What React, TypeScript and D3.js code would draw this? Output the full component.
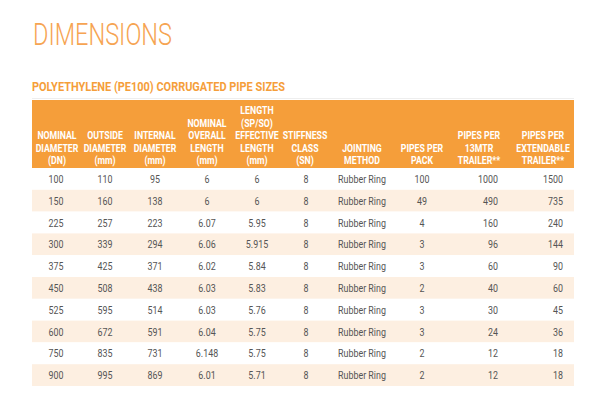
import React from "react";
import * as d3 from "d3";

const nominalDN = ["100", "150", "225", "300", "375", "450", "525", "600", "750", "900"];
const outsideDia = ["110", "160", "257", "339", "425", "508", "595", "672", "835", "995"];
const internalDia = ["95", "138", "223", "294", "371", "438", "514", "591", "731", "869"];
const overallLength = ["6", "6", "6.07", "6.06", "6.02", "6.03", "6.03", "6.04", "6.148", "6.01"];
const effectiveLength = ["6", "6", "5.95", "5.915", "5.84", "5.83", "5.76", "5.75", "5.75", "5.71"];
const stiffness = ["8", "8", "8", "8", "8", "8", "8", "8", "8", "8"];
const jointing = ["Rubber Ring", "Rubber Ring", "Rubber Ring", "Rubber Ring", "Rubber Ring", "Rubber Ring", "Rubber Ring", "Rubber Ring", "Rubber Ring", "Rubber Ring"];
const pipesPerPack = ["100", "49", "4", "3", "3", "2", "3", "3", "2", "2"];
const pipes13m = ["1000", "490", "160", "96", "60", "40", "30", "24", "12", "12"];
const pipesExt = ["1500", "735", "240", "144", "90", "60", "45", "36", "18", "18"];

const headers: string[][] = [
  ["NOMINAL", "DIAMETER", "(DN)"],
  ["OUTSIDE", "DIAMETER", "(mm)"],
  ["INTERNAL", "DIAMETER", "(mm)"],
  ["NOMINAL", "OVERALL", "LENGTH", "(mm)"],
  ["LENGTH", "(SP/SO)", "EFFECTIVE", "LENGTH", "(mm)"],
  ["STIFFNESS", "CLASS", "(SN)"],
  ["JOINTING", "METHOD"],
  ["PIPES PER", "PACK"],
  ["PIPES PER", "13MTR", "TRAILER**"],
  ["PIPES PER", "EXTENDABLE", "TRAILER**"],
];

const columns = [nominalDN, outsideDia, internalDia, overallLength, effectiveLength, stiffness, jointing, pipesPerPack, pipes13m, pipesExt];

const headerX = [57, 105, 155, 207, 257, 305, 362, 422, 479, 543];
const cellX = [56, 105, 155, 207, 257, 306, 362, 422, 498, 563];
const cellAnchor = ["middle", "middle", "middle", "middle", "middle", "middle", "middle", "middle", "end", "end"];

const FONT = "Roboto, 'Liberation Sans', sans-serif";
const ORANGE = "#F59E3A";

function CText({ x, y, text, size, weight, fill, anchor, sx }: any) {
  return (
    <text
      transform={`translate(${x},${y}) scale(${sx},1)`}
      textAnchor={anchor}
      fontSize={size}
      fontWeight={weight}
      fill={fill}
      fontFamily={FONT}
    >
      {text}
    </text>
  );
}

export default function App() {
  const left = 32;
  const right = 574;
  const headTop = 100;
  const headBottom = 168;
  const rows = d3.range(nominalDN.length);
  const y = d3.scaleBand<number>().domain(rows).range([headBottom, 386]);

  return (
    <svg width={600} height={407} style={{ position: "absolute", left: 0, top: 0, background: "#fff" }}>
      <rect x={0} y={0} width={600} height={407} fill="#fff" />
      <text x={33} y={45} fontSize={32} fontWeight={300} fill="#F6A452" fontFamily={FONT} textLength={139} lengthAdjust="spacingAndGlyphs">
        DIMENSIONS
      </text>
      <text x={32} y={91} fontSize={12.6} fontWeight={700} fill={ORANGE} fontFamily={FONT} textLength={253} lengthAdjust="spacingAndGlyphs">
        POLYETHYLENE (PE100) CORRUGATED PIPE SIZES
      </text>
      <line x1={left} x2={right} y1={98.5} y2={98.5} stroke="#eeeeee" strokeWidth={1} />
      <rect x={left} y={headTop} width={right - left} height={headBottom - headTop} fill={ORANGE} />
      {headers.map((lines, ci) =>
        lines.map((ln, li) => (
          <CText
            key={`h${ci}-${li}`}
            x={headerX[ci]}
            y={164 - (lines.length - 1 - li) * 12.5}
            text={ln}
            size={10.4}
            weight={700}
            fill="#ffffff"
            anchor="middle"
            sx={0.84}
          />
        ))
      )}
      {rows.map((r) => (
        <rect key={`bg${r}`} x={left} y={y(r)!} width={right - left} height={y.bandwidth()} fill={r % 2 === 1 ? "#FDEFE1" : "#ffffff"} />
      ))}
      {rows.map((r) =>
        columns.map((col, ci) => (
          <CText
            key={`c${r}-${ci}`}
            x={cellX[ci]}
            y={y(r)! + y.bandwidth() / 2 + 4}
            text={col[r]}
            size={10.6}
            weight={400}
            fill="#555555"
            anchor={cellAnchor[ci]}
            sx={0.84}
          />
        ))
      )}
    </svg>
  );
}
